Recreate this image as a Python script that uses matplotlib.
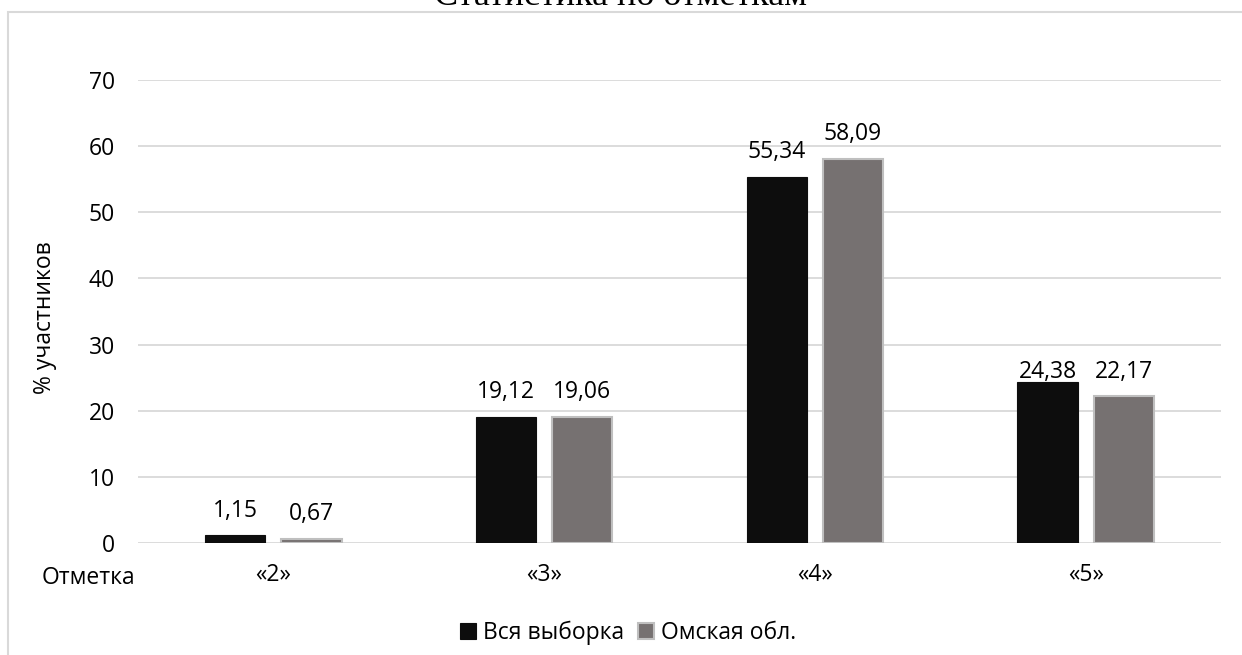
import numpy as np
import matplotlib
matplotlib.use("Agg")
import matplotlib.pyplot as plt
from matplotlib.patches import Rectangle

# data
grades = ["«2»", "«3»", "«4»", "«5»"]
all_sample = [1.15, 19.12, 55.34, 24.38]
omsk = [0.67, 19.06, 58.09, 22.17]
labels_all = ["1,15", "19,12", "55,34", "24,38"]
labels_omsk = ["0,67", "19,06", "58,09", "22,17"]
yticks = [0, 10, 20, 30, 40, 50, 60, 70]

plt.rcParams['font.family'] = ['Open Sans', 'DejaVu Sans']
fs = 16.5

W, H = 1242, 655
fig = plt.figure(figsize=(W / 100, H / 100), dpi=100)

# chart frame (top and left visible)
fig.add_artist(Rectangle((8 / W, -0.1), 1.2, 1.1 - 12 / H, transform=fig.transFigure,
                         fill=False, edgecolor='#d9d9d9', linewidth=1.5))

fig.text(0.5, 1 - 5 / H, "Статистика по отметкам", ha='center', va='baseline',
         fontsize=26, family='Liberation Serif')

ax = fig.add_axes([138 / W, 1 - 543 / H, (1221 - 138) / W, (543 - 80) / H])
x = np.arange(len(grades))
w = 0.222
off = 0.141
b1 = ax.bar(x - off, all_sample, w, color='#0d0d0d', edgecolor='#0d0d0d', linewidth=0.8, zorder=3)
b2 = ax.bar(x + off, omsk, w, color='#767171', edgecolor='#bfbfbf', linewidth=1.5, zorder=3)

# label gap above bar (points); the 24,38 label sits tight on its bar in the original
pad_all = [13.5, 13.5, 13.5, 3]
pad_omsk = [13.5, 13.5, 13.5, 13.5]
for i in range(len(grades)):
    ax.annotate(labels_all[i], (x[i] - off, all_sample[i]), xytext=(0, pad_all[i]),
                textcoords='offset points', ha='center', va='baseline', fontsize=fs)
    ax.annotate(labels_omsk[i], (x[i] + off, omsk[i]), xytext=(0, pad_omsk[i]),
                textcoords='offset points', ha='center', va='baseline', fontsize=fs)

ax.set_xlim(-0.5, 3.5)
ax.set_ylim(0, 70)
ax.set_yticks(yticks)
ax.set_yticklabels([str(t) for t in yticks], fontsize=fs)
ax.set_xticks(x)
ax.set_xticklabels(grades, fontsize=fs)
ax.tick_params(length=0, pad=16.5, axis='y')
ax.tick_params(length=0, pad=14.5, axis='x')
ax.grid(axis='y', color='#d9d9d9', linewidth=1.3, zorder=0)
for s in ax.spines.values():
    s.set_visible(False)

fig.text(45 / W, 1 - 318 / H, "% участников", rotation=90, ha='center', va='center', fontsize=fs)
fig.text(42 / W, 1 - 578 / H, "Отметка", ha='left', va='center', fontsize=fs)

fig.legend([b1, b2], ["Вся выборка", "Омская обл."], loc='center', bbox_to_anchor=(628 / W, 1 - 633 / H),
           ncol=2, frameon=False, fontsize=fs, handlelength=0.7, handleheight=0.7,
           handletextpad=0.3, columnspacing=0.6)

fig.savefig("out.png", dpi=100)
